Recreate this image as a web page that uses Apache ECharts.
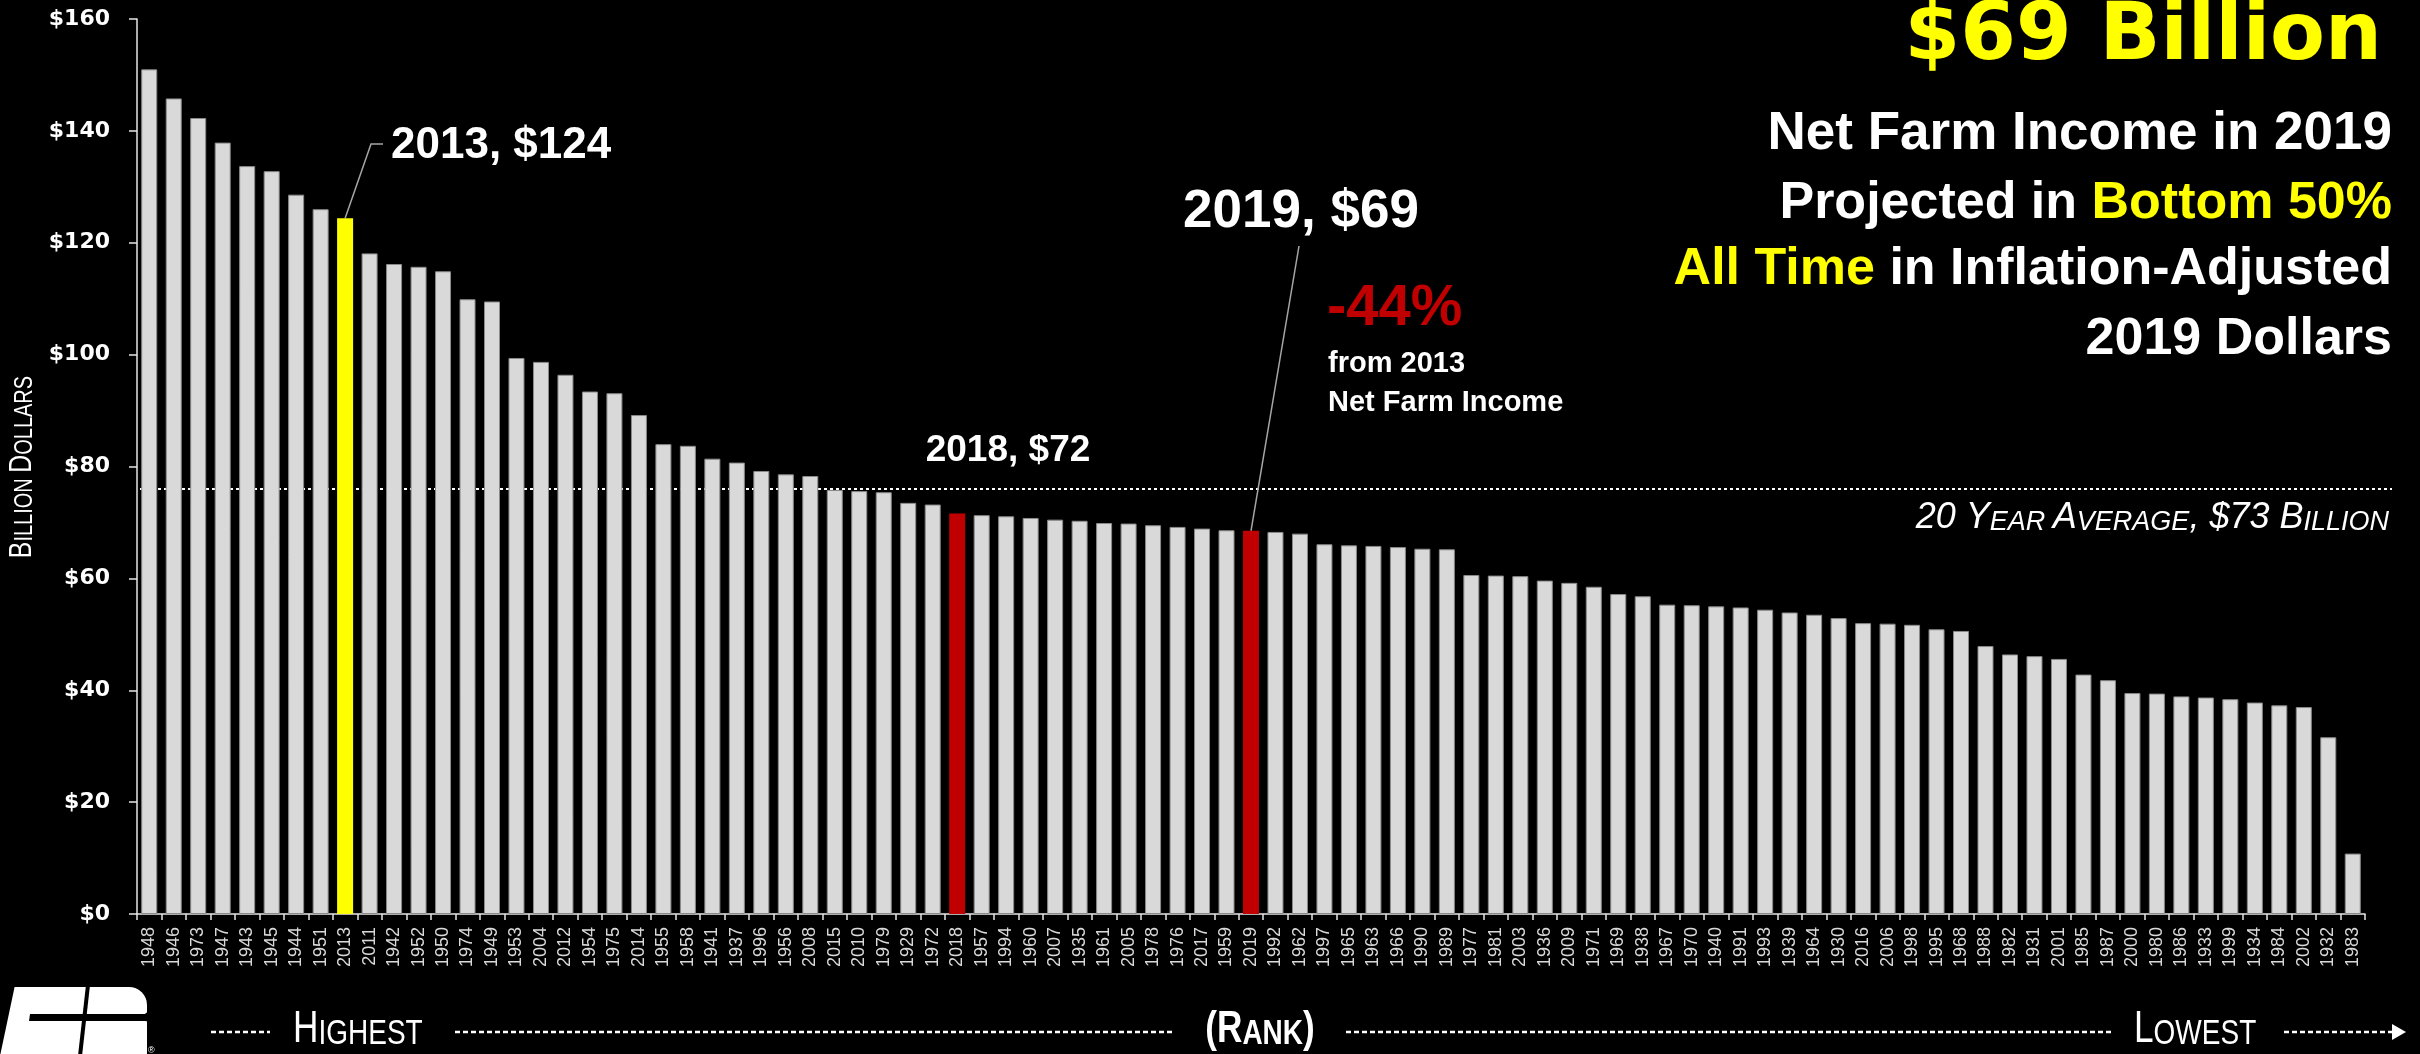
<!DOCTYPE html>
<html><head><meta charset="utf-8">
<script src="https://cdn.jsdelivr.net/npm/echarts/dist/echarts.min.js"></script>
<style>html,body{margin:0;padding:0;background:#000;}#c{width:2420px;height:1054px;}</style>
</head><body><div id="c"></div>
<script>
// Years ranked from highest to lowest net farm income (2019 dollars, billions)
const categories = ['1948','1946','1973','1947','1943','1945','1944','1951','2013','2011','1942','1952','1950','1974','1949','1953','2004','2012','1954','1975','2014','1955','1958','1941','1937','1996','1956','2008','2015','2010','1979','1929','1972','2018','1957','1994','1960','2007','1935','1961','2005','1978','1976','2017','1959','2019','1992','1962','1997','1965','1963','1966','1990','1989','1977','1981','2003','1936','2009','1971','1969','1938','1967','1970','1940','1991','1993','1939','1964','1930','2016','2006','1998','1995','1968','1988','1982','1931','2001','1985','1987','2000','1980','1986','1933','1999','1934','1984','2002','1932','1983'];
const values = [151.0,145.8,142.3,137.9,133.7,132.8,128.6,126.0,124.4,118.1,116.2,115.7,114.9,109.9,109.5,99.4,98.7,96.4,93.4,93.1,89.2,84.0,83.7,81.4,80.7,79.2,78.6,78.3,75.8,75.6,75.4,73.5,73.2,71.6,71.3,71.1,70.8,70.5,70.3,69.9,69.8,69.5,69.2,68.9,68.6,68.5,68.3,68.0,66.1,65.9,65.8,65.6,65.3,65.2,60.6,60.5,60.4,59.6,59.2,58.5,57.2,56.8,55.3,55.2,55.0,54.8,54.4,53.9,53.5,52.9,52.0,51.9,51.7,50.9,50.6,47.9,46.4,46.1,45.6,42.8,41.8,39.5,39.4,38.9,38.7,38.4,37.8,37.3,37.0,31.6,10.8];
const yellowYears = ['2013'];
const redYears = ['2018','2019'];
const averageLine = 76;
const yMin = 0, yMax = 160, yStep = 20;

const chart = echarts.init(document.getElementById('c'), null, {renderer:'canvas'});
const barData = values.map((v,i)=>{
  const c = categories[i];
  if (yellowYears.includes(c)) return {value:v, itemStyle:{color:'#ffff00', borderWidth:0}};
  if (redYears.includes(c)) return {value:v, itemStyle:{color:'#c00000', borderWidth:0}};
  return v;
});
const option = {
  backgroundColor:'#000',
  animation:false,
  grid:{left:137, right:55, top:19, bottom:140},
  xAxis:{
    type:'category', data:categories,
    axisLine:{lineStyle:{color:'#e6e6e6', width:1.5}},
    axisTick:{show:true, length:6, lineStyle:{color:'#e6e6e6', width:1.5}},
    axisLabel:{interval:0, rotate:90, margin:13, color:'#d9d9d9', fontFamily:'Liberation Sans', fontSize:18}
  },
  yAxis:{
    type:'value', min:yMin, max:yMax, interval:yStep,
    splitLine:{show:false},
    axisLine:{show:true, lineStyle:{color:'#e6e6e6', width:1.5}},
    axisTick:{show:true, length:8, lineStyle:{color:'#e6e6e6', width:1.5}},
    axisLabel:{margin:27, color:'#fff', fontFamily:'DejaVu Sans', fontWeight:'bold', fontSize:22, formatter:v=>'$'+v}
  },
  series:[{
    type:'bar', data:barData, barWidth:16,
    itemStyle:{color:'#d9d9d9', borderColor:'#8a8a8a', borderWidth:1}
  }]
};
chart.setOption(option);

const toPx = (cat)=>chart.convertToPixel({gridIndex:0},[categories.indexOf(cat), values[categories.indexOf(cat)]]);
const p2013 = toPx('2013');
const p2019 = toPx('2019');
const avgY = chart.convertToPixel({gridIndex:0},[0,averageLine])[1];

const LB = '"Liberation Sans"';
const sc = (bs, ss, extra) => ({b:Object.assign({fontSize:bs, lineHeight:bs, verticalAlign:'bottom'}, extra), s:Object.assign({fontSize:ss, lineHeight:bs, verticalAlign:'bottom'}, extra)});
function txt(text, x, y, font, fill, align){
  return {type:'text', silent:true, style:{text, x, y, font, fill, textAlign:align||'left', textVerticalAlign:'middle'}};
}
function rich(text, x, y, richStyles, align, extra){
  return Object.assign({type:'text', silent:true, x, y, style:{text, x:0, y:0, rich:richStyles, textAlign:align||'left', textVerticalAlign:'middle'}}, extra||{});
}
const whiteBold52 = {fill:'#fff', fontSize:52, fontWeight:'bold', fontFamily:'Liberation Sans'};
const yellowBold52 = {fill:'#ffff00', fontSize:52, fontWeight:'bold', fontFamily:'Liberation Sans'};
const scSans = {fill:'#fff', fontFamily:'Liberation Sans'};
const narrow = {scaleX:0.8};

const graphics = [
  // average dotted line
  {type:'line', silent:true, shape:{x1:140, y1:avgY, x2:2392, y2:avgY}, style:{stroke:'#fff', lineWidth:2, lineDash:[3,3]}},
  // leader lines
  {type:'polyline', silent:true, shape:{points:[[p2013[0], p2013[1]],[371,144],[383,144]]}, style:{stroke:'#a6a6a6', lineWidth:1.5, fill:null}},
  {type:'line', silent:true, shape:{x1:p2019[0], y1:p2019[1], x2:1299, y2:246}, style:{stroke:'#a6a6a6', lineWidth:1.5}},
  // annotations
  txt('2013, $124', 391, 146, 'bold 44px '+LB, '#fff'),
  txt('2019, $69', 1301, 212, 'bold 53px '+LB, '#fff', 'center'),
  txt('-44%', 1327, 309, 'bold 58px '+LB, '#c00000'),
  txt('from 2013', 1328, 364, 'bold 29px '+LB, '#fff'),
  txt('Net Farm Income', 1328, 403, 'bold 29px '+LB, '#fff'),
  txt('2018, $72', 1008, 451, 'bold 37px '+LB, '#fff', 'center'),
  // average label
  rich('{b|20 Y}{s|EAR }{b|A}{s|VERAGE}{b|, $73 B}{s|ILLION}', 2389, 518,
       sc(36,27,{fill:'#fff', fontFamily:'Liberation Sans', fontStyle:'italic'}), 'right'),
  // title block
  txt('$69 Billion', 2382, 38, 'bold 80px "DejaVu Sans"', '#ffff00', 'right'),
  txt('Net Farm Income in 2019', 2392, 134, 'bold 53px '+LB, '#fff', 'right'),
  rich('{w|Projected in }{y|Bottom 50%}', 2392, 204, {w:whiteBold52, y:yellowBold52}, 'right'),
  rich('{y|All Time}{w| in Inflation-Adjusted}', 2392, 270, {w:whiteBold52, y:yellowBold52}, 'right'),
  txt('2019 Dollars', 2392, 340, 'bold 52px '+LB, '#fff', 'right'),
  // y axis name
  rich('{b|B}{s|ILLION }{b|D}{s|OLLARS}', 22, 467, sc(31,25,scSans), 'center', {rotation:Math.PI/2, scaleX:0.8}),
  // bottom rank row
  {type:'line', silent:true, shape:{x1:211, y1:1032, x2:270, y2:1032}, style:{stroke:'#fff', lineWidth:2.5, lineDash:[5,3]}},
  rich('{b|H}{s|IGHEST}', 293, 1030, sc(44,35,scSans), 'left', narrow),
  {type:'line', silent:true, shape:{x1:455, y1:1032, x2:1173, y2:1032}, style:{stroke:'#fff', lineWidth:2.5, lineDash:[5,3]}},
  rich('{b|(R}{s|ANK}{b|)}', 1260, 1030, sc(44,35,Object.assign({fontWeight:'bold'},scSans)), 'center', narrow),
  {type:'line', silent:true, shape:{x1:1346, y1:1032, x2:2114, y2:1032}, style:{stroke:'#fff', lineWidth:2.5, lineDash:[5,3]}},
  rich('{b|L}{s|OWEST}', 2134, 1030, sc(44,35,scSans), 'left', narrow),
  {type:'line', silent:true, shape:{x1:2284, y1:1032, x2:2394, y2:1032}, style:{stroke:'#fff', lineWidth:2.5, lineDash:[5,3]}},
  {type:'polygon', silent:true, shape:{points:[[2392,1024],[2406,1032],[2392,1040]]}, style:{fill:'#fff'}},
  // logo (approximate)
  {type:'rect', silent:true, shape:{x:0, y:987, width:147, height:80, r:[0,18,0,0]}, style:{fill:'#fff'}},
  {type:'polygon', silent:true, shape:{points:[[0,985],[15,985],[0,1056]]}, style:{fill:'#000'}},
  {type:'line', silent:true, shape:{x1:88, y1:985, x2:80, y2:1056}, style:{stroke:'#000', lineWidth:4}},
  {type:'polygon', silent:true, shape:{points:[[30,1014],[150,1014],[150,1021],[29,1021]]}, style:{fill:'#000'}},
  {type:'polygon', silent:true, shape:{points:[[150,1010],[141,1017],[150,1024]]}, style:{fill:'#000'}},
  {type:'text', silent:true, style:{text:'®', x:148, y:1046, font:'9px "Liberation Sans"', fill:'#fff'}}
];
chart.setOption({graphic:graphics});
</script>
</body></html>
